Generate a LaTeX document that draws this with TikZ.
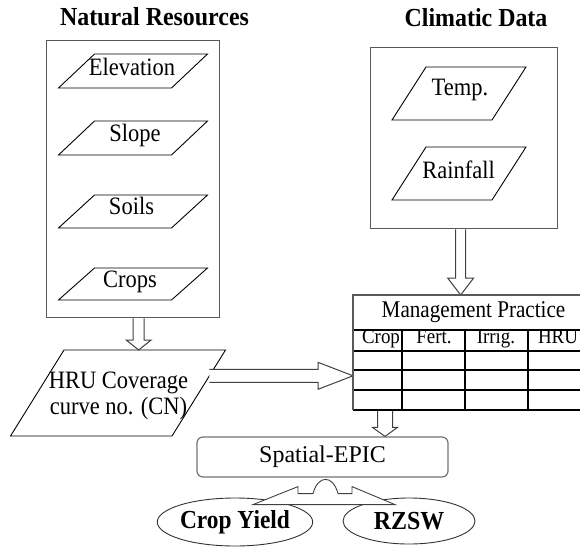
\documentclass[tikz,border=0pt]{standalone}
\usepackage{fontspec}
\setmainfont{Liberation Serif}
\usetikzlibrary{calc,shapes.geometric}

% horizontally condensed text
\newcommand\sq[2][0.9]{\scalebox{#1}[1]{#2}}

% parallelogram: name, centre x, centre y, edge length, height, skew
\newcommand\paral[6]{%
  \coordinate (#1-nw) at ({#2-#4/2+#6/2},{#3-#5/2});
  \coordinate (#1-ne) at ({#2+#4/2+#6/2},{#3-#5/2});
  \coordinate (#1-se) at ({#2+#4/2-#6/2},{#3+#5/2});
  \coordinate (#1-sw) at ({#2-#4/2-#6/2},{#3+#5/2});
  \draw[paraline] (#1-nw) -- (#1-ne) -- (#1-se) -- (#1-sw) -- cycle;
}

% hollow block arrow pointing down: start, tip, shaft half width, head half width, head length
\newcommand\vhollow[5]{%
  \draw[hollow] let \p1=(#1), \p2=(#2) in
    (\x1-#3pt,\y1) -- (\x1-#3pt,\y2+#5pt) -- (\x1-#4pt,\y2+#5pt) -- (\x1,\y2)
    -- (\x1+#4pt,\y2+#5pt) -- (\x1+#3pt,\y2+#5pt) -- (\x1+#3pt,\y1);
}
% hollow block arrow pointing right
\newcommand\hhollow[5]{%
  \draw[hollow] let \p1=(#1), \p2=(#2) in
    (\x1,\y1+#3pt) -- (\x2-#5pt,\y1+#3pt) -- (\x2-#5pt,\y1+#4pt) -- (\x2,\y1)
    -- (\x2-#5pt,\y1-#4pt) -- (\x2-#5pt,\y1-#3pt) -- (\x1,\y1-#3pt);
}

\tikzset{
  boxline/.style={draw=black!65, line width=1.3pt},
  paraline/.style={draw=black, line width=0.9pt},
  hollow/.style={draw=black!75, line width=1pt, fill=white},
  gridline/.style={draw=black, line width=1.4pt},
  lbl/.style={font=\fontsize{25}{27}\selectfont, inner sep=0pt, text height=0.66em, text depth=0pt},
  hdr/.style={font=\fontsize{21}{23}\selectfont, inner sep=0pt, text height=0.66em, text depth=0pt},
  ttl/.style={font=\bfseries\fontsize{26}{28}\selectfont, inner sep=0pt, text height=0.68em, text depth=0pt},
}

\begin{document}
\begin{tikzpicture}[x=1pt, y=-1pt]
\useasboundingbox (0,0) rectangle (580,546);
\clip (0,0) rectangle (580,546);

% --- containers ---
\node[boxline, minimum width=173pt, minimum height=277pt, anchor=north west, inner sep=0pt] (nr) at (46,40) {};
\node[boxline, minimum width=187pt, minimum height=181pt, anchor=north west, inner sep=0pt] (cd) at (370,47) {};
\node[minimum width=237pt, minimum height=115pt, anchor=north west, inner sep=0pt] (mp) at (353,295) {};
\node[draw=black!55, line width=1.2pt, rounded corners=6pt, minimum width=251pt, minimum height=40pt,
      inner sep=0pt, font=\fontsize{24}{26}\selectfont] (sp) at (322.5,457) {Spatial-EPIC};

\node[ttl] (nrt) at (154.5,22) {\sq[0.92]{Natural Resources}};
\node[ttl] (cdt) at (476,23.5) {\sq[0.92]{Climatic Data}};

% --- natural resources layers ---
\paral{elev}{133}{71}{113}{34}{36}
\paral{slope}{133}{138}{113}{34}{36}
\paral{soil}{133}{211.5}{113}{33}{36}
\paral{crop}{133}{284}{113}{32}{36}
\node[lbl] (elevt) at (132,72) {\sq{Elevation}};
\node[lbl] (slopet) at (135,138) {\sq{Slope}};
\node[lbl] (soilt) at (131.5,211) {\sq{Soils}};
\node[lbl] (cropt) at (130,284) {\sq{Crops}};

% --- climatic layers ---
\paral{temp}{459}{93.5}{100}{53}{34}
\paral{rain}{459}{173.5}{100}{53}{34}
\node[lbl] (tempt) at (460,92.5) {\sq{Temp.}};
\node[lbl] (raint) at (458.5,175) {\sq{Rainfall}};

% --- HRU parallelogram ---
\paral{hru}{118}{393}{161.5}{86}{53.5}
\coordinate (hru-a) at ($(hru-ne)!0.3!(hru-se)$);
\node[font=\fontsize{25}{26}\selectfont, align=center, inner sep=0pt] (hrut) at (118.5,396)
  {\sq{HRU Coverage}\\\sq{curve no. (CN)}};

% --- block arrows ---
\vhollow{[xshift=5.5pt]nr.south}{hru-nw}{5.5}{12.5}{10}
\vhollow{[xshift=-3.5pt]cd.south}{mp.north}{5}{13}{17}
\hhollow{hru-a}{mp.west}{6.5}{13.5}{35}
\vhollow{[xshift=32pt]mp.south west}{sp.north}{7.5}{12.5}{9}

% --- management practice table ---
\draw[gridline] (353,330) -- (590,330);
\draw[gridline] (353,351) -- (590,351);
\draw[gridline] (353,370) -- (590,370);
\draw[gridline] (353,390) -- (590,390);
\draw[gridline] (353,410) -- (590,410);
\foreach \cx in {402,465,528} \draw[gridline] (\cx,330) -- (\cx,410);
\draw[boxline] (mp.south west) -- (mp.north west) -- (mp.north east);
\node[lbl, font=\fontsize{24}{26}\selectfont] (mpt) at (473.5,314) {\sq[0.88]{Management Practice}};
\node[hdr] (h1) at (381,340) {\sq{Crop}};
\node[hdr] (h2) at (434,340) {\sq{Fert.}};
\node[hdr] (h3) at (496,340) {\sq{Irrig.}};
\node[hdr] (h4) at (558,340) {\sq{HRU}};

% --- outputs ---
\node[ellipse, draw=black!80, line width=0.9pt, minimum width=134pt, minimum height=48pt, inner sep=0pt,
      font=\bfseries\fontsize{26}{28}\selectfont] (cy) at (235,522) {\sq{Crop Yield}};
\node[ellipse, draw=black!80, line width=0.9pt, minimum width=132pt, minimum height=46pt, inner sep=0pt,
      font=\bfseries\fontsize{26}{28}\selectfont] (rz) at (409,521) {\sq[0.92]{RZSW}};

% curved two-way arrow from the model down to both outputs
\begin{scope}[shift={(sp.south)}]
  \draw[draw=black!75, line width=0.9pt, fill=white]
    (-69.5,27) -- (-24.5,9) -- (-24.5,16) -- (-9.5,16)
    .. controls (-4.5,-3) and (10.5,-3) .. (15.5,16)
    -- (29.5,16) -- (29.5,9) -- (72.5,27) -- cycle;
\end{scope}
\end{tikzpicture}
\end{document}
